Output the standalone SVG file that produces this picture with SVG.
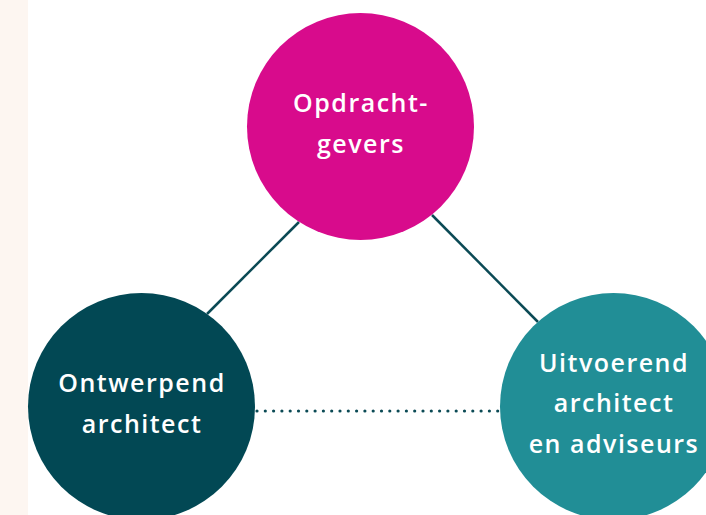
<svg xmlns="http://www.w3.org/2000/svg" width="706" height="515" viewBox="0 0 706 515">
<style>
.lbl{font-family:"Open Sans","Liberation Sans",sans-serif;font-weight:600;font-size:25px;letter-spacing:1.5px;fill:#ffffff;text-anchor:middle}
.conn{stroke:#0b4a55;stroke-width:2.5;fill:none}
.dot{stroke:#0b4a55;stroke-width:3.2;stroke-linecap:round;stroke-dasharray:0 8.3;fill:none}
</style>
<rect x="0" y="0" width="706" height="515" fill="#ffffff"/>
<rect x="0" y="0" width="28" height="515" fill="#fdf6f1"/>
<g id="connectors">
<line class="conn" x1="299" y1="222" x2="207" y2="314"/>
<line class="conn" x1="432" y1="215" x2="538" y2="322"/>
<line class="dot" x1="257" y1="411" x2="499" y2="411"/>
</g>
<g id="opdrachtgevers">
<circle cx="360.5" cy="126.5" r="113.5" fill="#d80b8c"/>
<text class="lbl" x="361" y="112">Opdracht-</text>
<text class="lbl" x="361" y="153">gevers</text>
</g>
<g id="ontwerpend-architect">
<circle cx="141.5" cy="406.5" r="113.5" fill="#024854"/>
<text class="lbl" x="142" y="392">Ontwerpend</text>
<text class="lbl" x="142" y="433">architect</text>
</g>
<g id="uitvoerend-architect">
<circle cx="613.5" cy="406.5" r="113.5" fill="#218e96"/>
<text class="lbl" x="614" y="372">Uitvoerend</text>
<text class="lbl" x="614" y="412">architect</text>
<text class="lbl" x="614" y="453">en adviseurs</text>
</g>
</svg>
